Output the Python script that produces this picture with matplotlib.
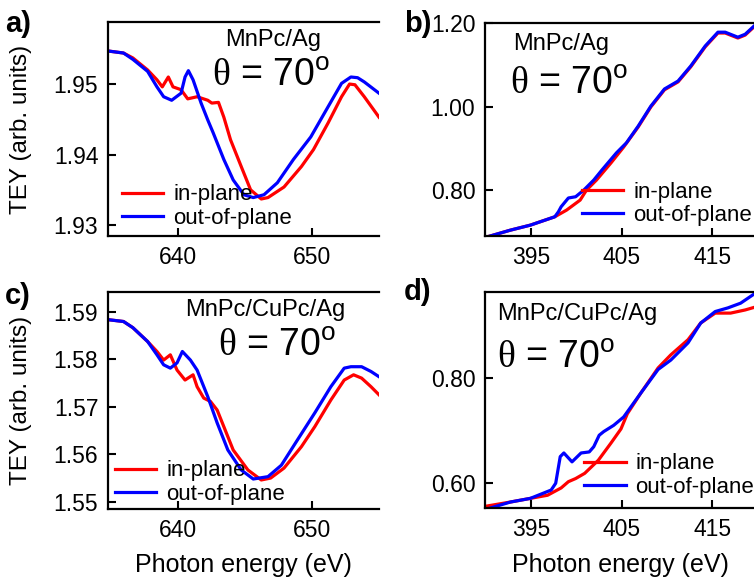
import matplotlib
matplotlib.use('Agg')
import matplotlib.pyplot as plt
import numpy as np

plt.rcParams['font.family'] = ['Liberation Sans', 'DejaVu Sans']
plt.rcParams['mathtext.fontset'] = 'custom'
plt.rcParams['mathtext.rm'] = 'Liberation Serif'
plt.rcParams['mathtext.sf'] = 'Liberation Sans'

# ---- datos ----
# a) MnPc/Ag, borde L de Mn
a_x_in = [634.7, 635.9, 636.6, 637.7, 638.4, 638.8, 639.25, 639.6, 640.2, 640.7, 641.4, 642.2,
          642.5, 643.0, 643.4, 643.9, 644.7, 645.4, 646.2, 646.7, 647.9, 649.2, 650.1, 651.2,
          652.2, 652.8, 653.2, 653.9, 655.0]
a_y_in = [1.9547, 1.9544, 1.9537, 1.9520, 1.9506, 1.9496, 1.9510, 1.9496, 1.9492, 1.9479, 1.9482, 1.9477,
          1.9473, 1.9474, 1.9453, 1.9421, 1.9383, 1.9350, 1.9337, 1.9339, 1.9354, 1.9383, 1.9407, 1.9445,
          1.9482, 1.9500, 1.9499, 1.9482, 1.9453]
a_x_out = [634.7, 635.9, 636.6, 637.7, 638.4, 638.9, 639.5, 640.2, 640.5, 640.75, 641.1, 641.7,
           642.2, 642.6, 643.4, 644.1, 644.9, 645.6, 646.4, 647.4, 648.6, 649.9, 651.2, 652.2,
           652.9, 653.4, 653.9, 655.0]
a_y_out = [1.9547, 1.9544, 1.9535, 1.9518, 1.9496, 1.9482, 1.9477, 1.9487, 1.9510, 1.9519, 1.9506, 1.9473,
           1.9449, 1.9431, 1.9393, 1.9364, 1.9343, 1.9339, 1.9343, 1.9360, 1.9393, 1.9425, 1.9468, 1.9501,
           1.9510, 1.9509, 1.9503, 1.9487]

# b) MnPc/Ag, borde K de N
b_x_in = [390.0, 392.7, 394.9, 397.6, 398.9, 400.4, 401.1, 402.2, 403.8, 405.2, 406.8, 408.2,
          409.7, 411.2, 412.6, 414.2, 415.6, 416.4, 417.8, 418.6, 419.8]
b_y_in = [0.687, 0.704, 0.716, 0.736, 0.752, 0.776, 0.800, 0.824, 0.865, 0.903, 0.951, 0.999,
          1.040, 1.059, 1.095, 1.143, 1.176, 1.176, 1.164, 1.171, 1.195]
b_x_out = [390.0, 392.7, 394.9, 397.6, 398.0, 398.3, 399.1, 399.9, 400.8, 401.9, 402.8, 404.4,
           405.5, 406.8, 408.2, 409.7, 411.2, 412.6, 414.2, 415.6, 416.4, 417.8, 418.6, 419.8]
b_y_out = [0.687, 0.704, 0.716, 0.736, 0.748, 0.760, 0.781, 0.784, 0.800, 0.824, 0.848, 0.889,
           0.913, 0.953, 1.001, 1.042, 1.061, 1.097, 1.145, 1.178, 1.178, 1.166, 1.173, 1.197]

# c) MnPc/CuPc/Ag, borde L de Mn
c_x_in = [634.7, 635.9, 636.6, 637.7, 638.4, 638.9, 639.4, 639.9, 640.5, 641.1, 641.4, 641.9,
          642.4, 642.9, 643.4, 644.1, 645.2, 646.2, 646.9, 647.9, 649.2, 650.2, 651.4, 652.4,
          653.1, 653.7, 654.4, 655.0]
c_y_in = [1.5883, 1.5879, 1.5866, 1.5837, 1.5816, 1.5798, 1.5809, 1.5777, 1.5756, 1.5767, 1.5742, 1.5718,
          1.5711, 1.5693, 1.5658, 1.5609, 1.5567, 1.5546, 1.5550, 1.5571, 1.5616, 1.5658, 1.5714, 1.5756,
          1.5767, 1.5760, 1.5742, 1.5725]
c_x_out = [634.7, 635.9, 636.6, 637.7, 638.4, 638.9, 639.4, 639.9, 640.3, 640.9, 641.4, 642.2,
           642.9, 643.7, 644.7, 645.6, 646.7, 647.7, 648.9, 650.2, 651.4, 652.4, 652.9, 653.7,
           654.4, 655.0]
c_y_out = [1.5883, 1.5879, 1.5866, 1.5837, 1.5809, 1.5788, 1.5781, 1.5792, 1.5816, 1.5798, 1.5777, 1.5721,
           1.5666, 1.5609, 1.5567, 1.5548, 1.5553, 1.5577, 1.5630, 1.5687, 1.5742, 1.5781, 1.5784, 1.5784,
           1.5774, 1.5763]

# d) MnPc/CuPc/Ag, borde K de N
d_x_in = [390.0, 392.7, 394.9, 396.8, 398.3, 399.1, 399.9, 400.9, 402.4, 403.8, 404.9, 405.6,
          407.1, 409.0, 410.4, 412.3, 413.7, 415.3, 417.0, 418.6, 419.8]
d_y_in = [0.555, 0.563, 0.570, 0.576, 0.590, 0.602, 0.608, 0.618, 0.643, 0.676, 0.703, 0.732,
          0.772, 0.820, 0.845, 0.874, 0.906, 0.925, 0.925, 0.931, 0.937]
d_x_out = [390.0, 392.7, 394.9, 397.2, 397.7, 398.2, 398.6, 399.5, 400.5, 401.4, 401.9, 402.5,
           403.0, 404.1, 405.2, 407.1, 409.0, 410.4, 412.3, 413.7, 415.3, 416.7, 418.1, 419.8]
d_y_out = [0.549, 0.563, 0.570, 0.586, 0.599, 0.650, 0.657, 0.640, 0.657, 0.659, 0.669, 0.691,
           0.698, 0.710, 0.726, 0.772, 0.817, 0.835, 0.868, 0.906, 0.928, 0.935, 0.944, 0.964]

paneles = [
    # letra, xlim, ylim, yticks, xticks, titulo
    ('a)', (634.74, 655.0), (1.92845, 1.9588), [1.93, 1.94, 1.95], [640, 650], 'MnPc/Ag'),
    ('b)', (389.9, 419.8), (0.690, 1.200), [0.80, 1.00, 1.20], [395, 405, 415], 'MnPc/Ag'),
    ('c)', (634.74, 655.0), (1.5485, 1.5941), [1.55, 1.56, 1.57, 1.58, 1.59], [640, 650], 'MnPc/CuPc/Ag'),
    ('d)', (389.9, 419.8), (0.551, 0.966), [0.60, 0.80], [395, 405, 415], 'MnPc/CuPc/Ag'),
]
datos = [(a_x_in, a_y_in, a_x_out, a_y_out), (b_x_in, b_y_in, b_x_out, b_y_out),
         (c_x_in, c_y_in, c_x_out, c_y_out), (d_x_in, d_y_in, d_x_out, d_y_out)]

W, H = 754, 583
fig = plt.figure(figsize=(W / 100, H / 100), dpi=100)

# cajas en pixeles: izquierda, arriba, abajo
cajas = [(108, 22, 236), (485, 23, 236), (108, 292, 509), (485, 291.7, 508.3)]
# posicion de textos (pixeles) y alineacion
titulos = [((273, 40), 'center', (271, 76), 'center'),
           ((561, 44), 'center', (510, 84), 'left'),
           ((265, 310), 'center', (277, 346), 'center'),
           ((577, 314), 'center', (497, 358), 'left')]
leyendas = [(0.052, 0.138), (0.359, 0.150), (0.026, 0.122), (0.367, 0.151)]
letras = [(5, 24), (404, 24), (5, 296), (404, 292)]

for i, (p, d) in enumerate(zip(paneles, datos)):
    letra, xl, yl, yt, xt, titulo = p
    l, t, b = cajas[i]
    ax = fig.add_axes([l / W, (H - b) / H, 271 / W, (b - t) / H])
    ax.plot(d[0], d[1], color='#ff0000', lw=2.3, label='in-plane')
    ax.plot(d[2], d[3], color='#0000ff', lw=2.3, label='out-of-plane')
    ax.set_xlim(xl)
    ax.set_ylim(yl)
    ax.set_xticks(xt)
    ax.set_yticks(yt)
    ax.set_yticklabels(['%.2f' % v for v in yt])
    ax.tick_params(direction='in', length=6, width=1.5, labelsize=16.5, top=False, right=False)
    ax.tick_params(axis='y', pad=7)
    ax.tick_params(axis='x', pad=7)
    for s in ['left', 'top', 'bottom']:
        ax.spines[s].set_linewidth(1.6)
    ax.spines['right'].set_visible(False)

    (tx, ty), ha1, (ux, uy), ha2 = titulos[i]
    fig.text(tx / W, 1 - ty / H, titulo, ha=ha1, va='center', fontsize=17)
    fig.text(ux / W, 1 - uy / H, r'$\mathrm{\theta}$ = 70$^{\mathsf{o}}$', ha=ha2, va='center', fontsize=27)

    ax.legend(loc='center left', bbox_to_anchor=leyendas[i], frameon=False, fontsize=16,
              handlelength=1.85, handletextpad=0.45, labelspacing=0.1, borderpad=0, borderaxespad=0)

    lx, ly = letras[i]
    fig.text(lx / W, 1 - ly / H, letra, ha='left', va='center', fontsize=21, fontweight='bold')

fig.text(21 / W, 1 - 129 / H, 'TEY (arb. units)', rotation=90, ha='center', va='center', fontsize=17.5)
fig.text(21 / W, 1 - 400 / H, 'TEY (arb. units)', rotation=90, ha='center', va='center', fontsize=17.5)
fig.text(243 / W, 1 - 565 / H, 'Photon energy (eV)', ha='center', va='center', fontsize=18)
fig.text(620 / W, 1 - 565 / H, 'Photon energy (eV)', ha='center', va='center', fontsize=18)

fig.savefig('out.png', dpi=100)
